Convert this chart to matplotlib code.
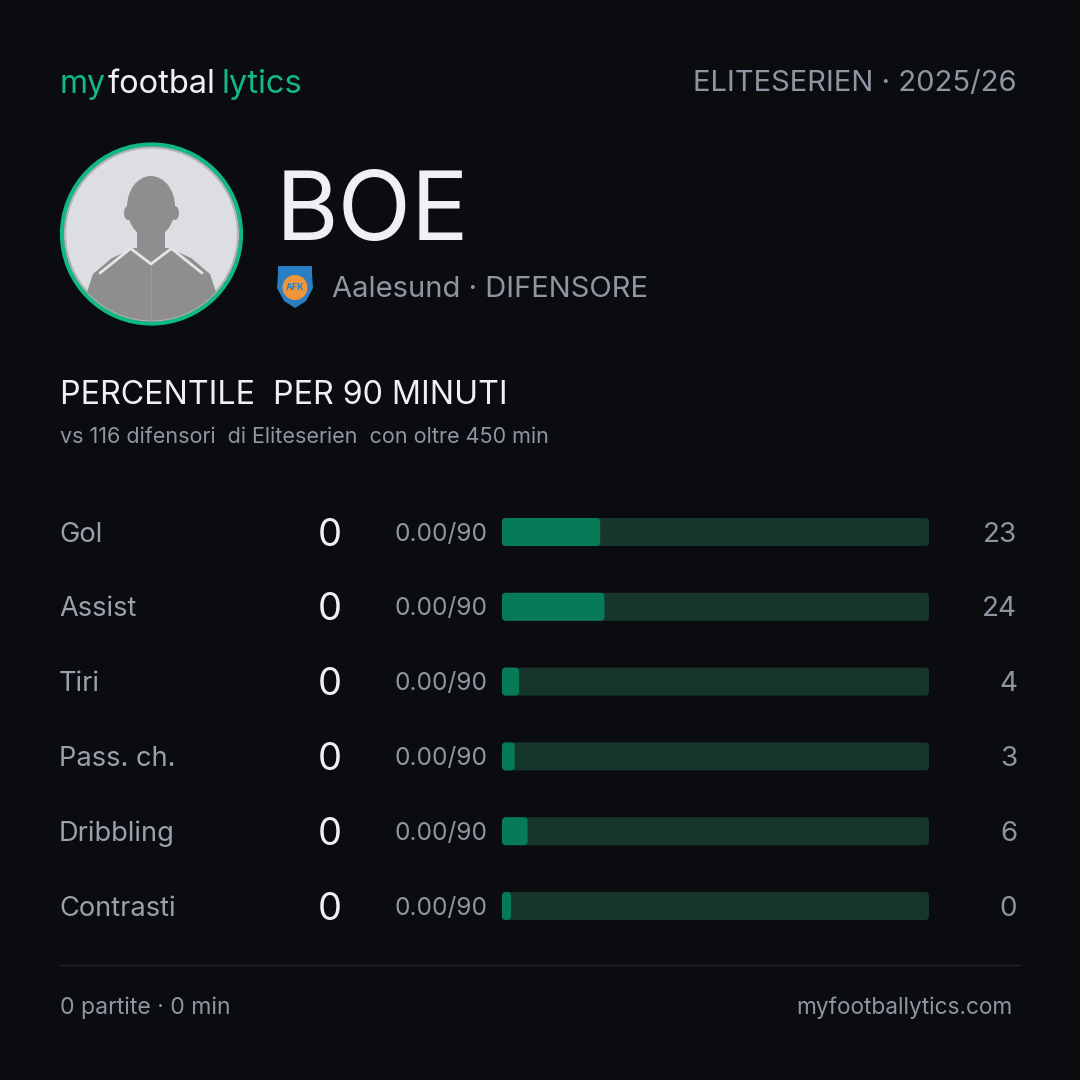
import matplotlib
matplotlib.use("Agg")
import matplotlib.pyplot as plt
from matplotlib.patches import Circle, Ellipse, Polygon, FancyBboxPatch, Rectangle
from matplotlib.lines import Line2D

# ---------------- data ----------------
player_name = "BOE"
club = "Aalesund"
position = "DIFENSORE"
league_label = "ELITESERIEN \u00b7 2025/26"
title = "PERCENTILE  PER 90 MINUTI"
subtitle = "vs 116 difensori  di Eliteserien  con oltre 450 min"
metrics = ["Gol", "Assist", "Tiri", "Pass. ch.", "Dribbling", "Contrasti"]
totals = [0, 0, 0, 0, 0, 0]
per90 = ["0.00/90", "0.00/90", "0.00/90", "0.00/90", "0.00/90", "0.00/90"]
percentiles = [23, 24, 4, 3, 6, 0]
footer_left = "0 partite \u00b7 0 min"
footer_right = "myfootballytics.com"

# ---------------- style ----------------
BG = "#0b0c10"
GREEN = "#12b886"
WHITE = "#eef0f3"
GRAY = "#8f96a2"
LABEL = "#9aa1ac"
TRACK = "#16352b"
FILL = "#077a58"
FONT = ["Inter", "DejaVu Sans"]
plt.rcParams["font.family"] = FONT

fig = plt.figure(figsize=(10.8, 10.8), dpi=100, facecolor=BG)
ax = fig.add_axes([0, 0, 1, 1])
ax.set_xlim(0, 1080)
ax.set_ylim(1080, 0)
ax.axis("off")
ax.set_facecolor(BG)

# ---- header ----
ax.text(60, 93, "my", color=GREEN, fontsize=23, va="baseline", ha="left")
ax.text(108, 93, "footbal", color=WHITE, fontsize=23.5, va="baseline", ha="left")
ax.text(222, 93, "lytics", color=GREEN, fontsize=23.5, va="baseline", ha="left")
ax.text(1017, 91, league_label, color=GRAY, fontsize=21, va="baseline", ha="right")

# ---- avatar ----
cx, cy = 151.5, 234
ax.add_patch(Circle((cx, cy), 89.5, facecolor="none", edgecolor="#10b981", lw=4.2 * 0.72, zorder=2))
inner = Circle((cx, cy), 86.5, facecolor="#dcdee2", edgecolor="#b4b6ba", lw=1.6, zorder=3)
ax.add_patch(inner)
sil = "#8e8e8e"
body = Polygon([(86, 330), (87, 292), (93, 274), (112, 258), (134, 248), (169, 248),
                (191, 258), (210, 274), (216, 292), (217, 330)],
               closed=True, facecolor=sil, edgecolor="none", zorder=4)
neck = Rectangle((137, 222), 28, 30, facecolor=sil, edgecolor="none", zorder=4)
head = Ellipse((151, 207), 48, 62, facecolor=sil, edgecolor="none", zorder=4)
earl = Ellipse((128, 213), 8, 14, facecolor=sil, edgecolor="none", zorder=4)
earr = Ellipse((175, 213), 8, 14, facecolor=sil, edgecolor="none", zorder=4)
for p in (body, neck, head, earl, earr):
    ax.add_patch(p)
    p.set_clip_path(inner)
for xs, ys in [((130, 151, 172), (248, 264, 248)), ((100, 130), (273, 249)), ((202, 172), (273, 249))]:
    ln = Line2D(xs, ys, color="#e4e5e8", lw=2.0, zorder=5, solid_capstyle="round")
    ax.add_line(ln)
ln = Line2D((151, 151), (265, 322), color="#9a9a9a", lw=0.8, zorder=5)
ax.add_line(ln)
ln.set_clip_path(inner)

# ---- name ----
ax.text(276, 240, player_name, color=WHITE, fontsize=69, va="baseline", ha="left")

# ---- club badge ----
ax.add_patch(Polygon([(278, 266), (312, 266), (312, 274), (313, 288), (306, 301), (295, 308),
                      (284, 301), (277, 288), (278, 274)], closed=True,
                     facecolor="#2a7fc4", edgecolor="none", zorder=3))
ax.add_patch(Circle((295, 287.5), 12.5, facecolor="#f0953a", edgecolor="none", zorder=4))
ax.text(295, 288, "AFK", color="#2a7fc4", fontsize=6.5, ha="center", va="center", zorder=5,
        fontweight="bold")
ax.text(332, 297, f"{club} \u00b7 {position}", color=GRAY, fontsize=21, va="baseline", ha="left")

# ---- section title ----
ax.text(60, 404, title, color=WHITE, fontsize=23.2, va="baseline", ha="left")
ax.text(60, 443, subtitle, color=GRAY, fontsize=15.5, va="baseline", ha="left")

# ---- rows ----
row0, step = 532, 74.8
for i, (m, t, p, pc) in enumerate(zip(metrics, totals, per90, percentiles)):
    yc = row0 + i * step
    ax.text(59, yc + 9.5, m, color=LABEL, fontsize=19.6, va="baseline", ha="left")
    ax.text(342, yc + 13.5, str(t), color=WHITE, fontsize=27.5, va="baseline", ha="right")
    ax.text(487, yc + 8.5, p, color=GRAY, fontsize=17.6, va="baseline", ha="right")
    ax.text(1017, yc + 9.5, str(pc), color=GRAY, fontsize=20, va="baseline", ha="right")

# bars axes: x in percentile units, y in row index units
bx0, bw = 502, 427
top_px = row0 - step / 2
h_px = step * len(metrics)
bax = fig.add_axes([bx0 / 1080, 1 - (top_px + h_px) / 1080, bw / 1080, h_px / 1080])
bax.set_xlim(0, 100)
bax.set_ylim(len(metrics) - 0.5, -0.5)
bax.axis("off")
bax.patch.set_alpha(0)
bar_h = 28 / step
aspect = (1 / step) / (100 / bw)  # y-units per px / x-units per px
rad = 4 * 100 / bw
min_w = 9 * 100 / bw
for i, pc in enumerate(percentiles):
    bax.add_patch(FancyBboxPatch((0, i - bar_h / 2), 100, bar_h,
                                 boxstyle=f"round,pad=0,rounding_size={rad}",
                                 mutation_aspect=aspect, facecolor=TRACK, edgecolor="none"))
    w = max(pc, min_w)
    bax.add_patch(FancyBboxPatch((0, i - bar_h / 2), w, bar_h,
                                 boxstyle=f"round,pad=0,rounding_size={rad}",
                                 mutation_aspect=aspect, facecolor=FILL, edgecolor="none"))

# ---- footer ----
ax.add_line(Line2D((60, 1020), (965, 965), color="#22242b", lw=1.0))
ax.text(60, 1014, footer_left, color=GRAY, fontsize=16.6, va="baseline", ha="left")
ax.text(1012, 1014, footer_right, color=GRAY, fontsize=16.3, va="baseline", ha="right")

fig.savefig("out.png", dpi=100, facecolor=BG)
